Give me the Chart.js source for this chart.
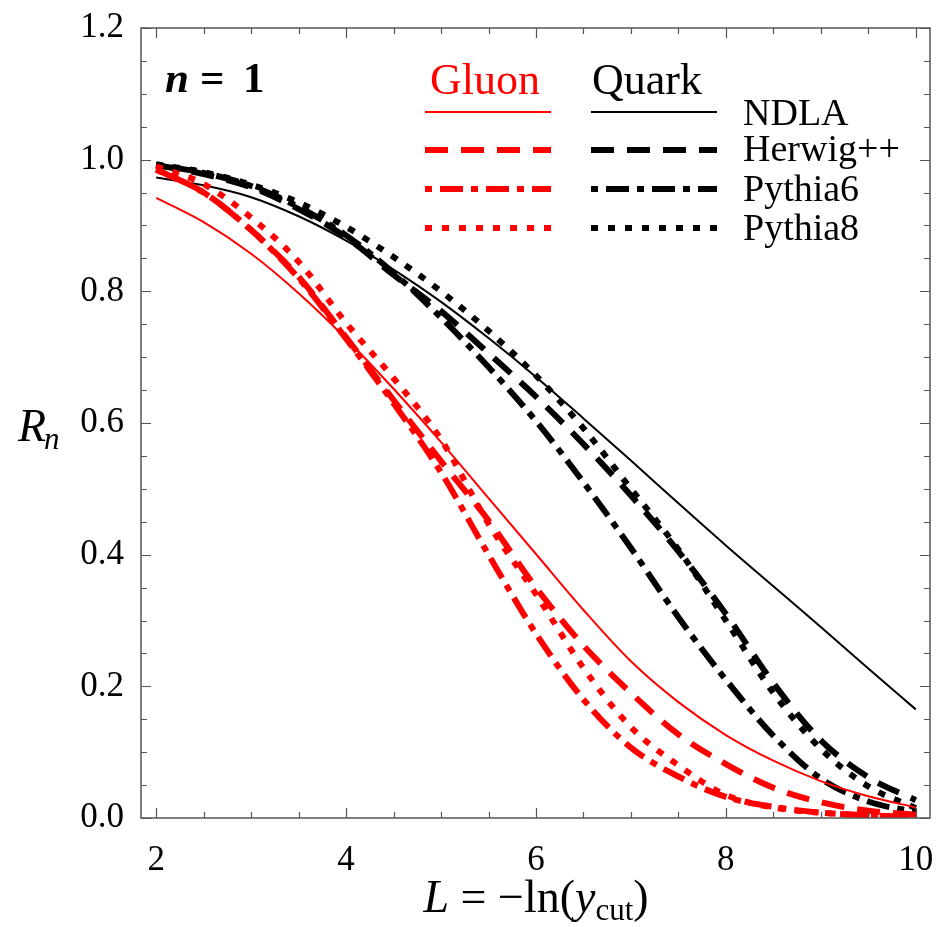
<!DOCTYPE html>
<html>
<head>
<meta charset="utf-8">
<script src="https://cdn.jsdelivr.net/npm/chart.js@4.4.1/dist/chart.umd.min.js"></script>
<style>
  html, body { margin: 0; padding: 0; background: #ffffff; }
  #wrap { width: 938px; height: 927px; }
</style>
</head>
<body>
<div id="wrap"><canvas id="c" width="938" height="927"></canvas></div>
<script>
// L = -ln(y_cut) sample points
const L = [2, 2.5, 3, 3.5, 4, 4.5, 5, 5.5, 6, 6.5, 7, 7.5, 8, 8.5, 9, 9.5, 10];

// Gluon jets, R_1
const gluonNDLA    = [0.942, 0.905, 0.857, 0.797, 0.728, 0.652, 0.571, 0.486, 0.401, 0.316, 0.238, 0.176, 0.126, 0.087, 0.056, 0.033, 0.016];
const gluonHerwig  = [0.985, 0.950, 0.893, 0.822, 0.730, 0.635, 0.542, 0.452, 0.350, 0.262, 0.190, 0.127, 0.082, 0.046, 0.024, 0.011, 0.005];
const gluonPythia6 = [0.985, 0.950, 0.893, 0.820, 0.728, 0.630, 0.525, 0.400, 0.280, 0.180, 0.107, 0.063, 0.032, 0.017, 0.008, 0.004, 0.002];
const gluonPythia8 = [0.990, 0.963, 0.912, 0.845, 0.752, 0.668, 0.575, 0.447, 0.340, 0.228, 0.138, 0.080, 0.035, 0.016, 0.008, 0.004, 0.002];

// Quark jets, R_1
const quarkNDLA    = [0.973, 0.961, 0.943, 0.914, 0.877, 0.833, 0.784, 0.729, 0.670, 0.607, 0.543, 0.478, 0.414, 0.352, 0.290, 0.227, 0.165];
const quarkHerwig  = [0.992, 0.978, 0.958, 0.925, 0.882, 0.825, 0.770, 0.706, 0.640, 0.568, 0.490, 0.405, 0.310, 0.205, 0.118, 0.062, 0.027];
const quarkPythia6 = [0.992, 0.980, 0.960, 0.928, 0.885, 0.828, 0.760, 0.685, 0.603, 0.510, 0.410, 0.305, 0.210, 0.125, 0.060, 0.025, 0.009];
const quarkPythia8 = [0.993, 0.981, 0.962, 0.935, 0.898, 0.852, 0.800, 0.740, 0.672, 0.592, 0.500, 0.408, 0.300, 0.190, 0.105, 0.048, 0.015];

// Axis tick labels
const xTicks = [2, 4, 6, 8, 10];
const yTicks = [0.0, 0.2, 0.4, 0.6, 0.8, 1.0, 1.2];

// Legend entries
const generators = ['NDLA', 'Herwig++', 'Pythia6', 'Pythia8'];
const jetTypes = ['Gluon', 'Quark'];

const RED = '#ff0000';
const BLACK = '#000000';
const SERIF = '"Liberation Serif", "Times New Roman", serif';

const styles = {
  NDLA:       { width: 2, dash: [] },
  'Herwig++': { width: 6, dash: [23, 13] },
  Pythia6:    { width: 6, dash: [7, 8, 23, 8] },
  Pythia8:    { width: 6, dash: [7, 10] }
};

function series(vals) { return L.map((x, i) => ({ x: x, y: vals[i] })); }

function makeSet(label, vals, color, gen) {
  const s = styles[gen];
  return {
    label: label,
    data: series(vals),
    borderColor: color,
    backgroundColor: color,
    borderWidth: s.width,
    borderDash: s.dash,
    borderCapStyle: 'butt',
    pointRadius: 0,
    cubicInterpolationMode: 'monotone',
    fill: false
  };
}

const datasets = [
  makeSet('Gluon NDLA', gluonNDLA, RED, 'NDLA'),
  makeSet('Gluon Herwig++', gluonHerwig, RED, 'Herwig++'),
  makeSet('Gluon Pythia6', gluonPythia6, RED, 'Pythia6'),
  makeSet('Gluon Pythia8', gluonPythia8, RED, 'Pythia8'),
  makeSet('Quark NDLA', quarkNDLA, BLACK, 'NDLA'),
  makeSet('Quark Herwig++', quarkHerwig, BLACK, 'Herwig++'),
  makeSet('Quark Pythia6', quarkPythia6, BLACK, 'Pythia6'),
  makeSet('Quark Pythia8', quarkPythia8, BLACK, 'Pythia8')
];

// Frame with inward major/minor ticks on all four sides
const framePlugin = {
  id: 'frame',
  afterDatasetsDraw(chart) {
    const { ctx, chartArea: a, scales: { x, y } } = chart;
    ctx.save();
    ctx.strokeStyle = '#555555';
    ctx.lineWidth = 1.5;
    ctx.strokeRect(a.left, a.top, a.right - a.left, a.bottom - a.top);
    ctx.lineWidth = 1.2;
    ctx.beginPath();
    for (let v = 2; v <= 10.001; v += 0.5) {
      const px = Math.round(x.getPixelForValue(v)) + 0.5;
      const len = xTicks.some(t => Math.abs(t - v) < 1e-6) ? 10 : 6;
      ctx.moveTo(px, a.bottom); ctx.lineTo(px, a.bottom - len);
      ctx.moveTo(px, a.top); ctx.lineTo(px, a.top + len);
    }
    for (let v = 0; v <= 1.2001; v += 0.05) {
      const py = Math.round(y.getPixelForValue(v)) + 0.5;
      const len = yTicks.some(t => Math.abs(t - v) < 1e-6) ? 10 : 6;
      ctx.moveTo(a.left, py); ctx.lineTo(a.left + len, py);
      ctx.moveTo(a.right, py); ctx.lineTo(a.right - len, py);
    }
    ctx.stroke();
    ctx.restore();
  }
};

// Panel label, legend table and axis titles
const textPlugin = {
  id: 'texts',
  afterDraw(chart) {
    const ctx = chart.ctx;
    ctx.save();
    ctx.textBaseline = 'alphabetic';
    ctx.fillStyle = BLACK;

    // n = 1
    ctx.textAlign = 'left';
    ctx.font = 'italic bold 43px ' + SERIF;
    ctx.fillText('n', 165, 92);
    ctx.font = 'bold 43px ' + SERIF;
    ctx.fillText('=', 200, 92);
    ctx.fillText('1', 243, 92);

    // legend headers
    ctx.font = '44px ' + SERIF;
    ctx.textAlign = 'center';
    ctx.fillStyle = RED;
    ctx.fillText(jetTypes[0], 485, 94);
    ctx.fillStyle = BLACK;
    ctx.fillText(jetTypes[1], 647, 94);

    // legend sample lines and labels
    const rowsY = [112, 150, 189, 228];
    const labelY = [125, 161, 201, 240];
    ctx.textAlign = 'left';
    ctx.font = '38px ' + SERIF;
    generators.forEach((g, i) => {
      const s = styles[g];
      [[RED, 425, 551], [BLACK, 591, 717]].forEach(([col, x0, x1]) => {
        ctx.beginPath();
        ctx.strokeStyle = col;
        ctx.lineWidth = s.width;
        ctx.lineCap = 'butt';
        ctx.setLineDash(s.dash);
        ctx.moveTo(x0, rowsY[i]);
        ctx.lineTo(x1, rowsY[i]);
        ctx.stroke();
      });
      ctx.setLineDash([]);
      ctx.fillStyle = BLACK;
      ctx.fillText(g, 743, labelY[i]);
    });

    // x-axis title: L = −ln(y_cut)
    const big = '46px ' + SERIF, bigI = 'italic 46px ' + SERIF, sub = '31px ' + SERIF;
    const parts = [
      { t: 'L', f: bigI, dy: 0 },
      { t: ' = \u2212ln(', f: big, dy: 0 },
      { t: 'y', f: bigI, dy: 0 },
      { t: 'cut', f: sub, dy: 8 },
      { t: ')', f: big, dy: 0 }
    ];
    let total = 0;
    parts.forEach(p => { ctx.font = p.f; p.w = ctx.measureText(p.t).width; total += p.w; });
    let cx = 536 - total / 2;
    parts.forEach(p => { ctx.font = p.f; ctx.fillText(p.t, cx, 912 + p.dy); cx += p.w; });

    // y-axis title: R_n
    ctx.font = 'italic 46px ' + SERIF;
    ctx.fillText('R', 18, 441);
    const rw = ctx.measureText('R').width;
    ctx.font = 'italic 31px ' + SERIF;
    ctx.fillText('n', 16 + rw, 449);
    ctx.restore();
  }
};

new Chart(document.getElementById('c'), {
  type: 'line',
  data: { datasets: datasets },
  options: {
    responsive: false,
    animation: false,
    layout: { padding: { left: 0, top: 28, right: 8, bottom: 0 } },
    plugins: { legend: { display: false }, tooltip: { enabled: false } },
    scales: {
      x: {
        type: 'linear',
        min: 1.84,
        max: 10.15,
        grid: { display: false },
        border: { display: false },
        afterBuildTicks: s => { s.ticks = xTicks.map(v => ({ value: v })); },
        afterFit: s => { s.height = 109; s.paddingLeft = 0; s.paddingRight = 0; },
        ticks: {
          autoSkip: false,
          maxRotation: 0,
          padding: 14,
          color: BLACK,
          font: { family: SERIF, size: 35 },
          callback: v => String(v)
        }
      },
      y: {
        type: 'linear',
        min: 0,
        max: 1.2,
        grid: { display: false },
        border: { display: false },
        afterBuildTicks: s => { s.ticks = yTicks.map(v => ({ value: v })); },
        afterFit: s => { s.width = 141; s.paddingTop = 0; s.paddingBottom = 0; },
        ticks: {
          autoSkip: false,
          padding: 9,
          color: BLACK,
          font: { family: SERIF, size: 35 },
          callback: v => Number(v).toFixed(1)
        }
      }
    }
  },
  plugins: [framePlugin, textPlugin]
});
</script>
</body>
</html>
